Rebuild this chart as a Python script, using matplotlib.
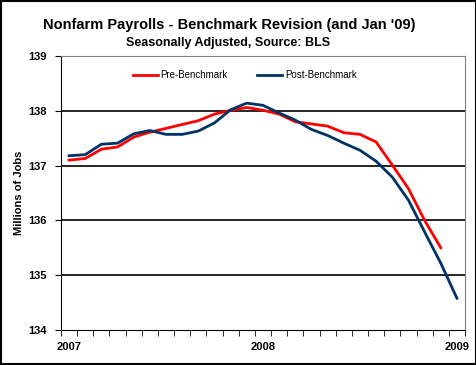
import matplotlib
matplotlib.use("Agg")
import matplotlib.pyplot as plt
from matplotlib.patches import Rectangle
import numpy as np

# monthly, Jan 2007 .. Jan 2009 (millions of jobs)
pre_benchmark = [137.10, 137.13, 137.30, 137.34, 137.52, 137.61, 137.68, 137.75,
                 137.82, 137.94, 138.01, 138.06, 138.01, 137.94, 137.80, 137.76,
                 137.72, 137.60, 137.57, 137.43, 137.01, 136.58, 136.00, 135.50]
post_benchmark = [137.18, 137.20, 137.39, 137.41, 137.58, 137.64, 137.57, 137.57,
                  137.63, 137.78, 138.02, 138.14, 138.10, 137.96, 137.83, 137.66,
                  137.55, 137.41, 137.28, 137.08, 136.79, 136.37, 135.79, 135.22,
                  134.58]
year_labels = ["2007", "2008", "2009"]

plt.rcParams['font.family'] = ['Liberation Sans', 'DejaVu Sans']

fig = plt.figure(figsize=(4.77, 3.65), dpi=100)
ax = fig.add_axes([61/477, 1 - 330/365, (465 - 61)/477, (330 - 56)/365])

ax.plot(np.arange(len(pre_benchmark)), pre_benchmark, color='#FF0000', lw=2,
        label='Pre-Benchmark')
ax.plot(np.arange(len(post_benchmark)), post_benchmark, color='#003366', lw=2,
        label='Post-Benchmark')

ax.set_xlim(-0.5, 24.5)
ax.set_ylim(134, 139)
ax.set_yticks([134, 135, 136, 137, 138, 139])
ax.set_yticklabels(['134', '135', '136', '137', '138', '139'], fontweight='bold', fontsize=8)
for v in [135, 136, 137, 138]:
    ax.axhline(v, color='black', lw=1.2, zorder=0)

ax.set_xticks(np.arange(-0.5, 25, 1), minor=True)
ax.set_xticks([0, 12, 24])
ax.set_xticklabels(year_labels, fontweight='bold', fontsize=8)
ax.tick_params(axis='x', which='major', length=0, pad=9)
ax.tick_params(axis='x', which='minor', length=4, direction='out', color='black')
ax.tick_params(axis='y', length=4, direction='out', pad=6)

ax.spines['top'].set_color('#808080')
ax.spines['right'].set_color('#808080')
ax.spines['left'].set_color('black')
ax.spines['bottom'].set_color('black')

ax.set_ylabel('Millions of Jobs', fontweight='bold', fontsize=8, labelpad=3)

ax.legend(loc='upper center', bbox_to_anchor=(0.455, 0.98), ncol=2, frameon=False,
          fontsize=7, handlelength=2.6, handletextpad=0.3, columnspacing=3.0)

fig.text(229/477, 1 - 25.5/365, "Nonfarm Payrolls - Benchmark Revision (and Jan '09)",
         ha='center', va='center', fontsize=10.5, fontweight='bold')
fig.text(228/477, 1 - 43/365, "Seasonally Adjusted, Source: BLS",
         ha='center', va='center', fontsize=9, fontweight='bold')

fig.patches.append(Rectangle((0.002, 0.003), 0.995, 0.994, transform=fig.transFigure,
                             fill=False, edgecolor='black', lw=1.5))

fig.savefig('out.png', dpi=100)
